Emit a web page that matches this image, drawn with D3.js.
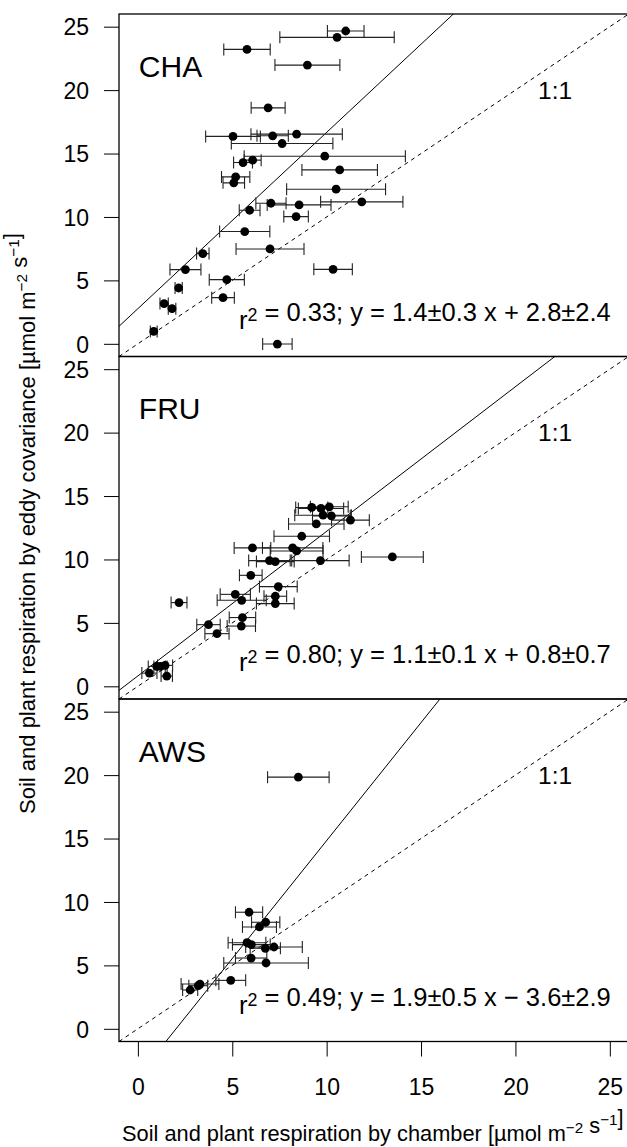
<!DOCTYPE html>
<html>
<head>
<meta charset="utf-8">
<script src="https://cdn.jsdelivr.net/npm/d3@7"></script>
<style>
  body { margin: 0; background: #fff; }
  svg text { font-family: "Liberation Sans", Arial, Helvetica, sans-serif; fill: #000; }
</style>
</head>
<body>
<div class="chart"></div>
<script>
// values (chamber x, its error, eddy covariance y)
const sites = ['CHA', 'FRU', 'AWS'];

const cha_x   = [11.01, 10.55, 5.78, 8.98, 6.90, 5.04, 7.14, 8.41, 7.64, 9.90, 5.57, 6.08, 10.69, 5.18, 5.08, 10.50, 11.86, 7.05, 8.54, 5.92, 8.38, 5.66, 7.00, 3.44, 2.52, 10.34, 4.71, 2.16, 4.51, 1.39, 1.81, 0.84, 7.39];
const cha_err = [0.97, 3.03, 1.23, 1.72, 0.90, 1.45, 0.83, 2.42, 2.69, 4.27, 0.50, 0.45, 2.00, 0.75, 0.57, 2.62, 2.18, 0.80, 1.69, 0.55, 0.65, 1.33, 1.80, 0.33, 0.82, 1.02, 0.93, 0.19, 0.60, 0.22, 0.20, 0.18, 0.78];
const cha_y   = [24.66, 24.16, 23.21, 21.97, 18.60, 16.35, 16.40, 16.53, 15.79, 14.79, 14.29, 14.48, 13.71, 13.16, 12.69, 12.19, 11.19, 11.08, 10.95, 10.53, 10.03, 8.85, 7.48, 7.11, 5.85, 5.87, 5.06, 4.40, 3.64, 3.17, 2.77, 0.98, -0.02];

const fru_x   = [9.21, 9.70, 10.14, 9.81, 10.25, 11.26, 9.45, 8.68, 6.07, 8.20, 8.41, 13.48, 6.97, 7.28, 9.67, 5.98, 7.44, 5.16, 5.50, 7.28, 7.28, 2.18, 5.54, 5.48, 3.74, 4.19, 0.61, 1.00, 1.20, 1.44, 1.53];
const fru_err = [0.85, 1.20, 1.00, 1.50, 1.00, 1.00, 1.47, 1.47, 0.97, 1.60, 1.40, 1.64, 1.10, 1.00, 1.52, 0.60, 1.00, 0.80, 1.30, 0.60, 1.00, 0.42, 0.70, 0.75, 0.62, 0.64, 0.40, 0.45, 0.35, 0.40, 0.30];
const fru_y   = [14.10, 14.02, 14.15, 13.49, 13.44, 13.10, 12.80, 11.83, 10.91, 10.91, 10.67, 10.20, 9.91, 9.83, 9.91, 8.75, 7.86, 7.25, 6.78, 7.10, 6.52, 6.60, 5.42, 4.75, 4.86, 4.15, 1.04, 1.57, 1.57, 1.65, 0.81];

const aws_x   = [8.50, 5.89, 6.77, 6.44, 5.78, 6.01, 6.75, 7.21, 6.00, 6.79, 4.92, 3.29, 3.20, 2.77];
const aws_err = [1.63, 0.72, 0.75, 0.90, 1.00, 1.00, 0.80, 1.50, 0.83, 2.24, 0.79, 1.00, 0.50, 0.40];
const aws_y   = [19.84, 9.19, 8.40, 8.03, 6.79, 6.64, 6.35, 6.45, 5.58, 5.19, 3.82, 3.53, 3.40, 3.06];

// fitted lines as drawn, plus the printed equations
const fit_slope = [1.39, 1.14, 1.86];
const fit_icpt  = [2.77, 0.82, -3.76];
const fit_r2    = ['0.33', '0.80', '0.49'];
const fit_eq    = ['1.4±0.3 x + 2.8±2.4', '1.1±0.1 x + 0.8±0.7', '1.9±0.5 x − 3.6±2.9'];

const ticks = [0, 5, 10, 15, 20, 25];

const W = 627, H = 1147;
const panel_h = 342.5;
const panel_top = [14, 356.5, 699];

const svg = d3.select('.chart').append('svg').attr('width', W).attr('height', H);

const x = d3.scaleLinear().domain([-1, 26]).range([119, 628.7]);

function make_y(top) {
  return d3.scaleLinear().domain([-1, 26]).range([top + panel_h, top]);
}

function sup(txt, s) {
  txt.append('tspan').attr('dy', -8).attr('font-size', '0.7em').text(s);
  txt.append('tspan').attr('dy', 8).text('');
}

const all_data = [
  { xs: cha_x, es: cha_err, ys: cha_y },
  { xs: fru_x, es: fru_err, ys: fru_y },
  { xs: aws_x, es: aws_err, ys: aws_y }
];

sites.forEach((site, i) => {
  const top = panel_top[i];
  const y = make_y(top);
  const d = all_data[i];
  const pts = d.xs.map((v, j) => ({ x: v, e: d.es[j], y: d.ys[j] }));

  svg.append('clipPath').attr('id', 'clip' + i)
    .append('rect').attr('x', x.range()[0]).attr('y', top)
    .attr('width', x.range()[1] - x.range()[0]).attr('height', panel_h);

  const g = svg.append('g');
  const inner = g.append('g').attr('clip-path', `url(#clip${i})`);

  // 1:1 line
  inner.append('line')
    .attr('x1', x(-1)).attr('y1', y(-1)).attr('x2', x(26)).attr('y2', y(26))
    .attr('stroke', '#000').attr('stroke-width', 1).attr('stroke-dasharray', '4,4');

  // fitted line
  inner.append('line')
    .attr('x1', x(-1)).attr('y1', y(fit_slope[i] * -1 + fit_icpt[i]))
    .attr('x2', x(26)).attr('y2', y(fit_slope[i] * 26 + fit_icpt[i]))
    .attr('stroke', '#000').attr('stroke-width', 1);

  // error bars
  const bars = inner.selectAll('g.err').data(pts).enter().append('g').attr('class', 'err')
    .attr('stroke', '#222').attr('stroke-width', 1.1);
  bars.append('line')
    .attr('x1', p => x(p.x - p.e)).attr('x2', p => x(p.x + p.e))
    .attr('y1', p => y(p.y)).attr('y2', p => y(p.y));
  bars.append('line')
    .attr('x1', p => x(p.x - p.e)).attr('x2', p => x(p.x - p.e))
    .attr('y1', p => y(p.y) - 6).attr('y2', p => y(p.y) + 6);
  bars.append('line')
    .attr('x1', p => x(p.x + p.e)).attr('x2', p => x(p.x + p.e))
    .attr('y1', p => y(p.y) - 6).attr('y2', p => y(p.y) + 6);

  inner.selectAll('circle').data(pts).enter().append('circle')
    .attr('cx', p => x(p.x)).attr('cy', p => y(p.y)).attr('r', 4.4).attr('fill', '#000');

  // box
  g.append('rect')
    .attr('x', x.range()[0]).attr('y', top)
    .attr('width', x.range()[1] - x.range()[0]).attr('height', panel_h)
    .attr('fill', 'none').attr('stroke', '#000').attr('stroke-width', 1.3);

  // y axis
  const y_axis = d3.axisLeft(y).tickValues(ticks).tickSize(15).tickPadding(15);
  const ag = g.append('g').attr('transform', `translate(${x.range()[0]},0)`).call(y_axis);
  ag.select('.domain').remove();
  ag.selectAll('line').attr('stroke', '#000');
  ag.selectAll('text').attr('font-size', 23).attr('font-family', null).attr('dy', '0.36em');
  ag.attr('font-family', null);

  // site label
  g.append('text').attr('x', x(0.05)).attr('y', y(21.05))
    .attr('font-size', 30).text(site);

  g.append('text').attr('x', x(22.1)).attr('y', y(20)).attr('dy', '0.36em')
    .attr('text-anchor', 'middle').attr('font-size', 24.5).text('1:1');

  const eq = g.append('text').attr('x', x(25.05)).attr('y', y(1.2))
    .attr('text-anchor', 'end').attr('font-size', 25.5);
  eq.append('tspan').text('r');
  sup(eq, '2');
  eq.append('tspan').text(` = ${fit_r2[i]}; y = ${fit_eq[i]}`);
});

// x axis under the last panel
const bottom = panel_top[2] + panel_h;
const x_axis = d3.axisBottom(x).tickValues(ticks).tickSize(15).tickPadding(22);
const xg = svg.append('g').attr('transform', `translate(0,${bottom})`).call(x_axis);
xg.select('.domain').remove();
xg.selectAll('line').attr('stroke', '#000');
xg.attr('font-family', null);
xg.selectAll('text').attr('font-size', 23).attr('font-family', null);

// axis titles
const xt = svg.append('text').attr('x', (x.range()[0] + x.range()[1]) / 2 - 1).attr('y', 1141)
  .attr('text-anchor', 'middle').attr('font-size', 21.8);
xt.append('tspan').text('Soil and plant respiration by chamber [µmol m');
sup(xt, '−2');
xt.append('tspan').text(' s');
sup(xt, '−1');
xt.append('tspan').text(']');

const yt = svg.append('text').attr('transform', 'translate(35,523.5) rotate(-90)')
  .attr('text-anchor', 'middle').attr('font-size', 22);
yt.append('tspan').text('Soil and plant respiration by eddy covariance [µmol m');
sup(yt, '−2');
yt.append('tspan').text(' s');
sup(yt, '−1');
yt.append('tspan').text(']');
</script>
</body>
</html>
